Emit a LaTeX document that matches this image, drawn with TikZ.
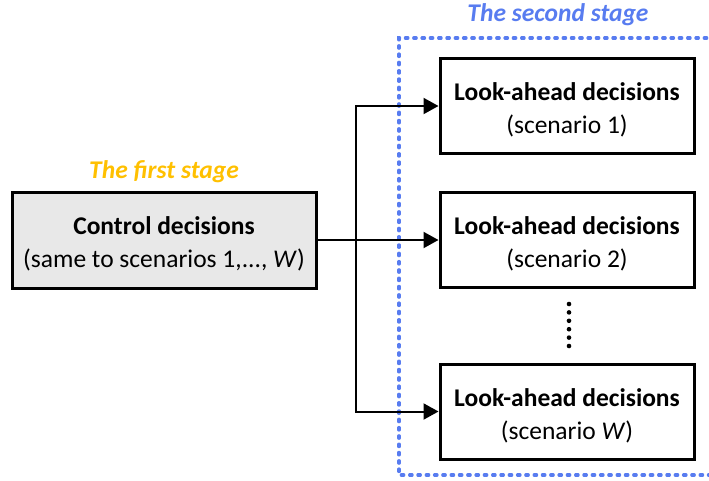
\documentclass[tikz,border=0pt]{standalone}
\usepackage{fontspec}
\setmainfont{Carlito}
\usetikzlibrary{arrows.meta}
\definecolor{stageblue}{RGB}{88,124,240}
\definecolor{stageorange}{RGB}{255,192,0}
\newcommand\boxstrut{\rule{0pt}{26pt}}
\tikzset{
  box/.style={draw=black, line width=3pt, minimum width=254pt, minimum height=95pt,
    align=center, inner sep=0pt, font=\fontsize{25.5}{33}\selectfont},
  ctrlbox/.style={box, minimum width=304pt, minimum height=96pt, fill=black!9},
  conn/.style={line width=2pt, -{Triangle[length=15pt,width=16pt]}},
  stagelabel/.style={font=\fontsize{25.5}{30}\selectfont\bfseries\itshape},
  frame/.style={draw=stageblue, line width=3.2pt, line cap=round, dash pattern=on 2.5pt off 5.8pt},
  dotmark/.style={fill=black}
}
\begin{document}
\begin{tikzpicture}[x=1pt,y=-1pt]
\useasboundingbox (0,0) rectangle (709,480);
\draw[frame] (715,38) -- (399,38) -- (399,475) -- (715,475);
\node[ctrlbox] (ctrl) at (164,240) {\boxstrut\textbf{Control decisions}\\(same to scenarios 1,..., \textit{W})};
\node[box] (b1) at (567,106) {\boxstrut\textbf{Look-ahead decisions}\\(scenario 1)};
\node[box] (b2) at (567,240) {\boxstrut\textbf{Look-ahead decisions}\\(scenario 2)};
\node[box] (b3) at (567,411.5) {\boxstrut\textbf{Look-ahead decisions}\\(scenario \textit{W})};
\node[stagelabel, text=stageorange] (l1) at (164,172) {The first stage};
\node[stagelabel, text=stageblue] (l2) at (558,15) {The second stage};
\coordinate (j) at (356,240);
\draw[conn] (ctrl.east) -- (b2.west);
\draw[conn] (j) |- (b1.west);
\draw[conn] (j) |- (b3.west);
\foreach \k in {0,...,5} {
  \fill[dotmark] (569,304+8.4*\k) circle (2.3pt);
}
\end{tikzpicture}
\end{document}
